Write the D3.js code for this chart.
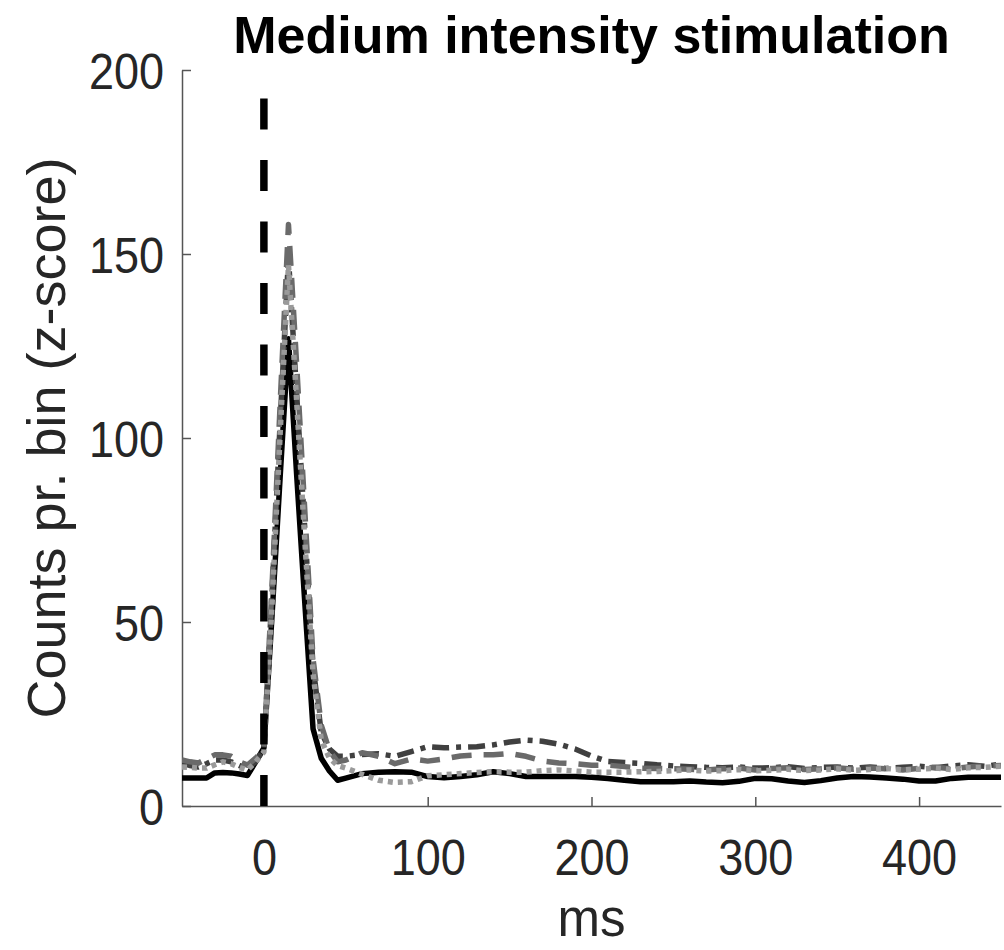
<!DOCTYPE html>
<html>
<head>
<meta charset="utf-8">
<script src="https://cdn.jsdelivr.net/npm/d3@7"></script>
<style>
  body { margin: 0; background: #fff; }
  text { font-family: "Liberation Sans", Arial, sans-serif; }
</style>
</head>
<body>
<div class="chart"></div>
<script>
// time bins (ms)
var times = [-50,-45,-40,-35,-30,-25,-20,-15,-10,-5,0,5,10,15,20,25,30,35,40,45,50,
  60,70,80,90,100,110,120,130,140,150,160,170,180,190,200,210,220,230,240,250,
  260,270,280,290,300,310,320,330,340,350,360,370,380,390,400,410,420,430,440,450];

var solidBlack = [7.6,7.6,7.6,7.6,9.0,9.1,9.0,8.7,8.3,12.0,15.8,52,90,127,90,55,21,13,9.5,7.0,7.6,
  8.8,9.2,9.3,9.2,8.0,7.7,8.0,8.5,9.3,8.8,
  8.0,8.0,8.0,8.0,7.8,7.5,7.0,6.6,6.6,6.6,
  6.8,6.5,6.3,6.7,7.5,7.4,6.8,6.4,6.9,7.6,
  8.0,7.9,7.6,7.3,6.8,6.8,7.5,7.8,7.8,7.8];

var dashDotDark = [11.7,11.0,10.6,11.5,12.5,12.5,12.0,11.0,10.3,12.0,15.5,58,105,149,112,75,38,20,15.5,13.5,13.5,
  14.0,14.2,13.5,14.8,16.1,15.8,16.0,16.1,16.6,17.4,
  17.9,17.6,16.8,15.5,13.6,12.1,11.8,11.6,11.2,10.9,
  10.7,10.5,10.4,10.6,10.3,10.4,10.7,10.2,10.5,10.6,
  10.3,10.6,10.2,10.5,10.8,10.4,10.9,11.2,10.8,11.4];

var dashedMid = [12.5,12.0,11.7,12.8,13.9,13.9,13.5,12.0,11.1,13.0,15.2,60,110,158,120,80,40,22,15,12,12.5,
  14.5,13.5,11.5,12.8,12.2,12.8,13.6,13.9,13.9,14.3,
  13.5,12.2,11.7,11.5,11.1,11.1,10.7,10.3,10.2,10.1,
  10.0,9.8,10.1,10.3,9.8,10.2,10.4,9.9,10.1,10.4,
  10.0,10.3,10.1,9.8,10.2,10.5,10.1,10.6,10.9,11.0];

var dottedLight = [10.6,10.5,10.3,10.3,11.2,12.0,11.5,10.5,9.8,12.0,14.7,55,102,147,110,72,36,18,13,11,10.3,
  8.6,7.0,6.4,6.6,8.2,8.5,8.8,9.1,9.3,9.2,
  9.2,9.6,9.8,9.5,9.2,9.2,9.2,9.3,9.4,9.6,
  9.8,9.5,9.6,9.9,9.6,9.7,10.0,9.6,9.8,10.1,
  9.7,9.9,10.2,9.8,10.0,10.3,9.9,10.4,10.5,10.8];

var xTicks = [0,100,200,300,400];
var yTicks = [0,50,100,150,200];

var w = 1004, h = 950;
var padL = 182, padR = 1001, padT = 70, padB = 806;

var svg = d3.select(".chart").append("svg")
  .attr("width", w).attr("height", h);

var x = d3.scaleLinear().domain([-50, 450]).range([padL, padR]);
var y = d3.scaleLinear().domain([0, 200]).range([padB, padT]);

svg.append("defs").append("clipPath").attr("id", "plotclip")
  .append("rect").attr("x", padL).attr("y", padT - 2)
  .attr("width", padR - padL).attr("height", padB - padT + 4);

// axes (ticks point inward like matlab)
var xAxis = svg.append("g").attr("transform", "translate(0," + padB + ")")
  .call(d3.axisBottom(x).tickValues(xTicks).tickSizeInner(-9).tickSizeOuter(0).tickPadding(34));
var yAxis = svg.append("g").attr("transform", "translate(" + padL + ",0)")
  .call(d3.axisLeft(y).tickValues(yTicks).tickSizeInner(-9).tickSizeOuter(0).tickPadding(20));

[xAxis, yAxis].forEach(function(a) {
  a.select(".domain").attr("stroke", "#555").attr("stroke-width", 1.5);
  a.selectAll(".tick line").attr("stroke", "#555").attr("stroke-width", 1.5);
  a.selectAll(".tick text")
    .attr("fill", "#262626")
    .style("font-size", "50px")
    .attr("transform", "scale(0.9,1)");
});
xAxis.selectAll(".tick text").attr("dy", "0.71em");
yAxis.selectAll(".tick text").attr("dy", "0.36em");

var series = [
  { vals: solidBlack, color: "#000", dash: null },
  { vals: dashDotDark, color: "#404040", dash: "17,7,5,7" },
  { vals: dashedMid, color: "#6a6a6a", dash: "20,12" },
  { vals: dottedLight, color: "#9a9a9a", dash: "5,5" }
];

var line = d3.line()
  .x(function(d, i) { return x(times[i]); })
  .y(function(d) { return y(d); });

var plot = svg.append("g").attr("clip-path", "url(#plotclip)");
series.forEach(function(s) {
  plot.append("path")
    .attr("d", line(s.vals))
    .attr("fill", "none")
    .attr("stroke", s.color)
    .attr("stroke-width", 5.5)
    .attr("stroke-linejoin", "round")
    .attr("stroke-dasharray", s.dash);
});

// stimulus onset
plot.append("line")
  .attr("x1", x(0)).attr("x2", x(0))
  .attr("y1", y(0)).attr("y2", y(200))
  .attr("stroke", "#000")
  .attr("stroke-width", 7.5)
  .attr("stroke-dasharray", "31,30.5");

svg.append("text")
  .attr("x", (padL + padR) / 2).attr("y", 53)
  .attr("text-anchor", "middle")
  .style("font-size", "52px").style("font-weight", "bold")
  .attr("fill", "#000")
  .text("Medium intensity stimulation");

svg.append("text")
  .attr("x", (padL + padR) / 2).attr("y", 936)
  .attr("text-anchor", "middle")
  .style("font-size", "51px")
  .attr("fill", "#262626")
  .text("ms");

svg.append("text")
  .attr("transform", "translate(65," + (padT + padB) / 2 + ") rotate(-90)")
  .attr("text-anchor", "middle")
  .style("font-size", "54px")
  .attr("fill", "#262626")
  .text("Counts pr. bin (z-score)");
</script>
</body>
</html>
